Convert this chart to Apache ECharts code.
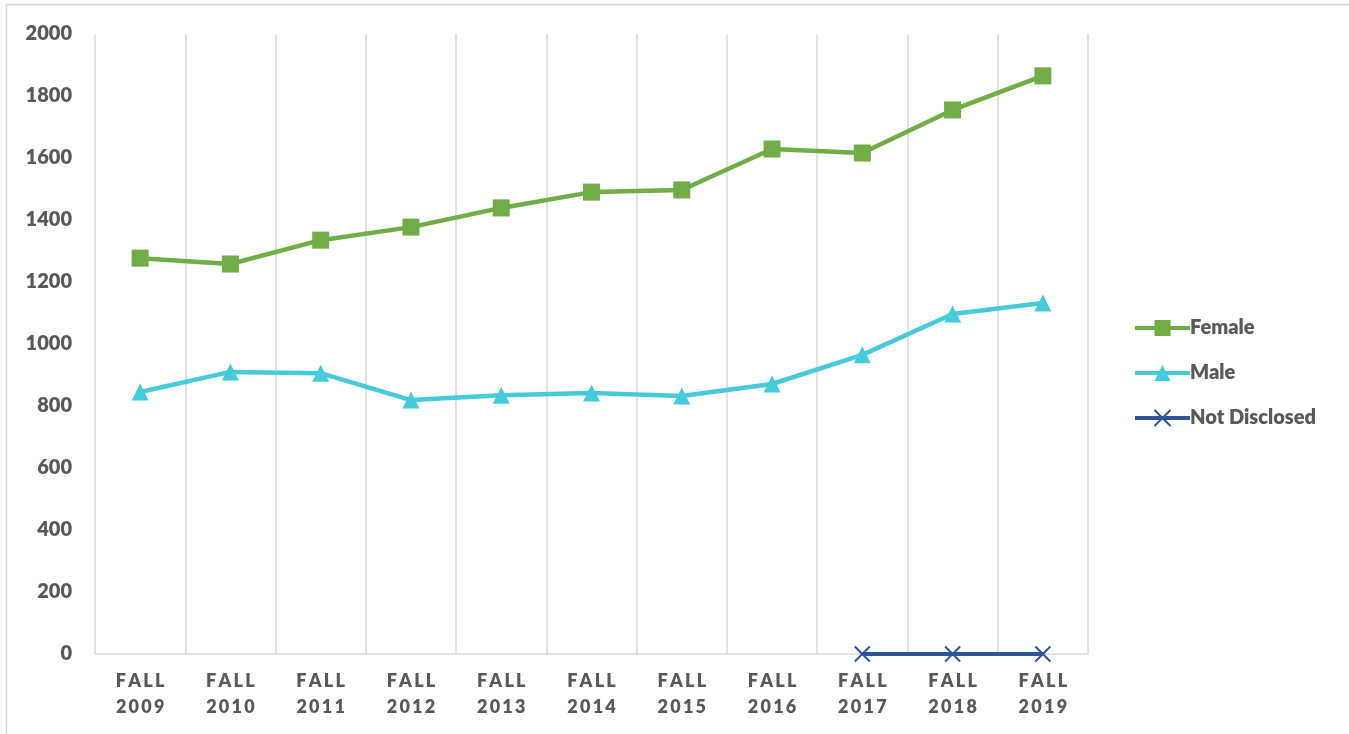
<!DOCTYPE html>
<html>
<head>
<meta charset="utf-8">
<script src="https://cdn.jsdelivr.net/npm/echarts@6/dist/echarts.min.js"></script>
<style>html,body{margin:0;padding:0;background:#fff}#c{width:1349px;height:734px}</style>
</head>
<body>
<div id="c"></div>
<script>
const categories = ['FALL\n2009','FALL\n2010','FALL\n2011','FALL\n2012','FALL\n2013','FALL\n2014','FALL\n2015','FALL\n2016','FALL\n2017','FALL\n2018','FALL\n2019'];
const female = [1277, 1258, 1335, 1377, 1439, 1490, 1497, 1629, 1616, 1755, 1865];
const male = [845, 910, 906, 819, 835, 842, 832, 871, 965, 1097, 1132];
const notDisclosed = [null, null, null, null, null, null, null, null, 0, 0, 0];
const yTicks = [0, 200, 400, 600, 800, 1000, 1200, 1400, 1600, 1800, 2000];

const spaced = s => s.split('\n').map(l => l.split('').join('\u2009')).join('\n');
const textColor = '#595959';
const font = 'Lato, "Open Sans", sans-serif';
const xPath = 'path://M0,0 L10,10 M10,0 L0,10';

const chart = echarts.init(document.getElementById('c'), null, {renderer: 'canvas'});
chart.setOption({
  animation: false,
  backgroundColor: '#fff',
  graphic: [{
    type: 'rect', shape: {x: 6.5, y: 4.5, width: 1400, height: 800},
    style: {fill: 'none', stroke: '#d9d9d9', lineWidth: 1.5}, silent: true
  }],
  grid: {left: 95, right: 261, top: 34, bottom: 80, containLabel: false},
  legend: {
    orient: 'vertical', left: 1128, top: 313, itemGap: 25, itemWidth: 55, itemHeight: 20,
    textStyle: {color: textColor, fontSize: 20, fontWeight: 800, fontFamily: font, padding: [0, 0, 0, -5]},
    lineStyle: {width: 4},
    data: ['Female', 'Male', 'Not Disclosed']
  },
  xAxis: {
    type: 'category', data: categories, boundaryGap: true,
    axisLine: {show: true, lineStyle: {color: '#d9d9d9', width: 1.5}},
    axisTick: {show: false},
    splitLine: {show: true, lineStyle: {color: '#d9d9d9', width: 1.5}},
    axisLabel: {
      color: textColor, fontSize: 18, fontWeight: 800, fontFamily: font, lineHeight: 26, margin: 14,
      formatter: v => spaced(v)
    }
  },
  yAxis: {
    type: 'value', min: 0, max: 2000, interval: 200,
    axisLine: {show: false}, axisTick: {show: false}, splitLine: {show: false},
    axisLabel: {color: textColor, fontSize: 20, fontWeight: 800, fontFamily: font, margin: 23,
      formatter: v => yTicks.includes(v) ? String(v) : ''}
  },
  series: [
    {name: 'Female', type: 'line', data: female, symbol: 'rect', symbolSize: 17,
     lineStyle: {color: '#70AD47', width: 4.5}, itemStyle: {color: '#70AD47'}},
    {name: 'Male', type: 'line', data: male, symbol: 'triangle', symbolSize: [17, 17],
     lineStyle: {color: '#45CBDA', width: 4.5}, itemStyle: {color: '#45CBDA'}},
    {name: 'Not Disclosed', type: 'line', data: notDisclosed, symbol: xPath, symbolSize: 15,
     lineStyle: {color: '#2F5597', width: 4},
     itemStyle: {color: '#2F5597', borderColor: '#2F5597', borderWidth: 2}}
  ]
});
</script>
</body>
</html>
